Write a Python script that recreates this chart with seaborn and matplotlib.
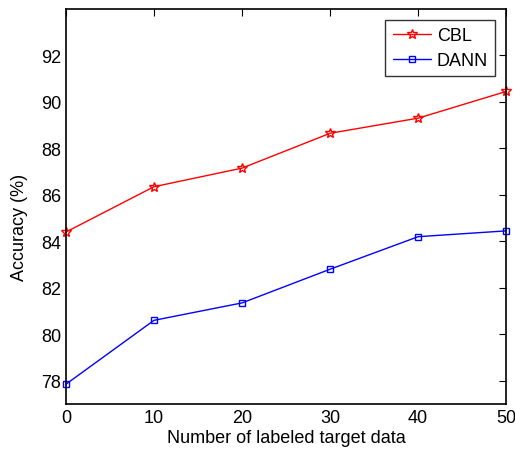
import pandas as pd
import seaborn as sns
import matplotlib.pyplot as plt

# data
labeled = [0, 10, 20, 30, 40, 50]
cbl_acc = [84.4, 86.35, 87.15, 88.65, 89.3, 90.45]
dann_acc = [77.85, 80.6, 81.35, 82.8, 84.2, 84.45]

sns.set_theme(style='white', rc={'text.color': 'black',
                                 'axes.labelcolor': 'black'})
plt.rcParams['font.family'] = ['Liberation Sans', 'DejaVu Sans']

fig = plt.figure(figsize=(5.15, 4.52), dpi=100)
ax = fig.add_axes([0.128, 0.104, 0.855, 0.874])

# one call per method so each keeps its own hollow marker colour
for name, acc, col, mk, ms in [('CBL', cbl_acc, 'red', '*', 7),
                               ('DANN', dann_acc, 'blue', 's', 4.5)]:
    sns.lineplot(x=labeled, y=acc, color=col, marker=mk, label=name,
                 linewidth=1, markersize=ms,
                 markerfacecolor='none', markeredgecolor=col,
                 markeredgewidth=1, clip_on=False, ax=ax)

ax.set_xlim(0, 50)
ax.set_ylim(77, 94)
ax.set_xticks([0, 10, 20, 30, 40, 50])
ax.set_yticks([78, 80, 82, 84, 86, 88, 90, 92])
ax.tick_params(direction='in', top=True, right=True, length=5, width=0.8,
               labelsize=13, colors='black')
for s in ax.spines.values():
    s.set_color('black')
    s.set_linewidth(1.2)
ax.set_xlabel('Number of labeled target data', fontsize=13, labelpad=2)
ax.set_ylabel('Accuracy (%)', fontsize=13)
ax.yaxis.set_label_coords(-0.085, 0.45)

leg = ax.legend(loc='upper right', fontsize=13, frameon=True, fancybox=False,
                edgecolor='black', handlelength=2.1, handletextpad=0.35,
                borderpad=0.4, labelspacing=0.45, borderaxespad=0.6)
leg.get_frame().set_linewidth(1)

plt.savefig('out.png', dpi=100)
